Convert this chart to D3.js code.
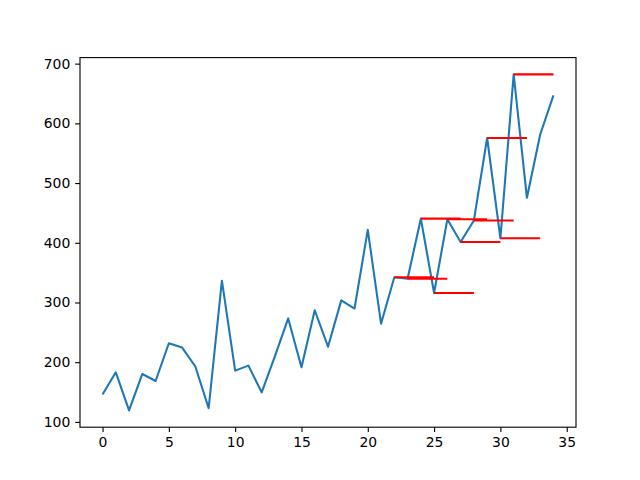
<!DOCTYPE html>
<html>
<head>
<meta charset="utf-8">
<script src="https://cdn.jsdelivr.net/npm/d3@7"></script>
<style>
  body { margin: 0; background: #fff; }
  svg { display: block; }
  .tick text { font-family: "DejaVu Sans", sans-serif; font-size: 13.9px; fill: #000; }
</style>
</head>
<body>
<div id="chart"></div>
<script>
// series values, x = 0..34
var sales = [145.9, 183.1, 119.3, 180.3, 168.5, 231.8, 224.5, 192.8, 122.9, 336.5,
             185.9, 194.3, 149.5, 210.1, 273.3, 191.4, 287.0, 226.0, 303.6, 289.9,
             421.6, 264.5, 342.3, 339.7, 440.4, 315.9, 439.3, 401.3, 437.4, 575.5,
             407.6, 682.0, 475.3, 581.3, 646.9];

// red horizontal segments
var segStart = [22, 23, 24, 25, 26, 27, 28, 29, 30, 31];
var segEnd   = [25, 26, 27, 28, 29, 30, 31, 32, 33, 34];
var segValue = [342.3, 339.7, 440.4, 315.9, 439.3, 401.3, 437.4, 575.5, 407.6, 682.0];

var xTicks = [0, 5, 10, 15, 20, 25, 30, 35];
var yTicks = [100, 200, 300, 400, 500, 600, 700];

var w = 640, h = 480;
var axLeft = 80, axRight = 576, axTop = 57.6, axBottom = 427.2;

var svg = d3.select("#chart").append("svg")
  .attr("width", w)
  .attr("height", h);

var xExt = [0, sales.length - 1];
var xPad = (xExt[1] - xExt[0]) * 0.05;
var x = d3.scaleLinear()
  .domain([xExt[0] - xPad, xExt[1] + xPad])
  .range([axLeft, axRight]);

var yExt = d3.extent(sales.concat(segValue));
var yPad = (yExt[1] - yExt[0]) * 0.05;
var y = d3.scaleLinear()
  .domain([yExt[0] - yPad, yExt[1] + yPad])
  .range([axBottom, axTop]);

var line = d3.line()
  .x(function(d, i) { return x(i); })
  .y(function(d) { return y(d); });

var plot = svg.append("g");

plot.append("path")
  .datum(sales)
  .attr("d", line)
  .attr("fill", "none")
  .attr("stroke", "#1f77b4")
  .attr("stroke-width", 2.08)
  .attr("stroke-linejoin", "round")
  .attr("stroke-linecap", "butt");

plot.selectAll("line.seg")
  .data(segValue)
  .enter()
  .append("line")
  .attr("class", "seg")
  .attr("x1", function(d, i) { return x(segStart[i]); })
  .attr("x2", function(d, i) { return x(segEnd[i]); })
  .attr("y1", function(d) { return y(d); })
  .attr("y2", function(d) { return y(d); })
  .attr("stroke", "red")
  .attr("stroke-width", 2.08);

var xAxis = d3.axisBottom(x)
  .tickValues(xTicks)
  .tickSize(4.86)
  .tickPadding(4.86)
  .tickFormat(d3.format("d"));

var yAxis = d3.axisLeft(y)
  .tickValues(yTicks)
  .tickSize(4.86)
  .tickPadding(4.86)
  .tickFormat(d3.format("d"));

var gx = svg.append("g")
  .attr("transform", "translate(0," + axBottom + ")")
  .call(xAxis);
gx.select(".domain").remove();
gx.selectAll(".tick line").attr("stroke", "#000").attr("stroke-width", 1.11);

var gy = svg.append("g")
  .attr("transform", "translate(" + axLeft + ",0)")
  .call(yAxis);
gy.select(".domain").remove();
gy.selectAll(".tick line").attr("stroke", "#000").attr("stroke-width", 1.11);

// frame
svg.append("rect")
  .attr("x", axLeft)
  .attr("y", axTop)
  .attr("width", axRight - axLeft)
  .attr("height", axBottom - axTop)
  .attr("fill", "none")
  .attr("stroke", "#000")
  .attr("stroke-width", 1.11);
</script>
</body>
</html>
